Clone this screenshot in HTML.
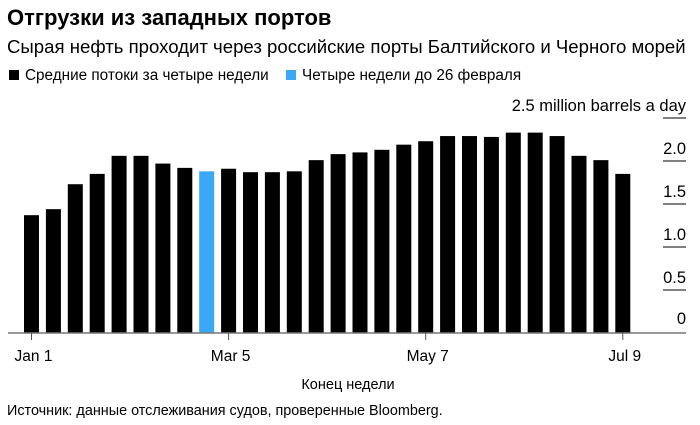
<!DOCTYPE html>
<html><head><meta charset="utf-8"><style>
body{margin:0;width:700px;height:425px;background:#fff;font-family:"Liberation Sans",sans-serif;color:#000;overflow:hidden;position:relative}
.t{position:absolute;white-space:nowrap}
</style></head><body>
<div class="t" style="left:7px;top:5px;font-size:22px;font-weight:bold">Отгрузки из западных портов</div>
<div class="t" style="left:7px;top:36px;font-size:18.6px">Сырая нефть проходит через российские порты Балтийского и Черного морей</div>
<div class="t" style="left:9px;top:67px;font-size:15.3px"><span style="display:inline-block;width:10px;height:10px;background:#000;margin-right:6px"></span>Средние потоки за четыре недели</div>
<div class="t" style="left:286px;top:67px;font-size:15.3px"><span style="display:inline-block;width:10px;height:10px;background:#3aa8f5;margin-right:6px"></span>Четыре недели до 26 февраля</div>
<svg width="700" height="425" style="position:absolute;left:0;top:0">
<g id="g"></g>
<text x="348" y="389" font-size="14.5" text-anchor="middle">Конец недели</text>
<text x="7" y="415" font-size="14.4">Источник: данные отслеживания судов, проверенные Bloomberg.</text>
</svg>
<script>
const values=[1.37,1.44,1.73,1.85,2.06,2.06,1.97,1.92,1.88,1.91,1.87,1.87,1.88,2.01,2.08,2.10,2.13,2.19,2.23,2.29,2.29,2.28,2.33,2.33,2.29,2.06,2.01,1.85];
const highlightIndex=[8];
const yTicks=[0,0.5,1.0,1.5,2.0,2.5];
const yTickLabels=["0","0.5","1.0","1.5","2.0","2.5 million barrels a day"];
const xTickIndex=[0,9,18,27];
const xTickLabels=["Jan 1","Mar 5","May 7","Jul 9"];
const NS="http://www.w3.org/2000/svg",g=document.getElementById('g');
const y=v=>333-v*86, x=i=>31.5+i*21.9, bw=15;
function mk(t,a){const e=document.createElementNS(NS,t);for(const k in a)e.setAttribute(k,a[k]);g.appendChild(e);return e;}
yTicks.forEach((v,i)=>{
 if(v>0){const l=mk('line',{x1:663,x2:686,y1:y(v),y2:y(v),stroke:'#000','stroke-width':1});
 
 }
 const t=mk('text',{x:686,y:y(v)-(v>0?7:9),'font-size':16.5,'text-anchor':'end'});t.textContent=yTickLabels[i];
 
 
});
values.forEach((v,i)=>{
 const r=mk('rect',{x:x(i)-bw/2,y:y(v),width:bw,height:333-y(v),fill:highlightIndex.includes(i)?'#3aa8f5':'#000'});
 
 
});
const ax=mk('line',{x1:8,x2:686,y1:333,y2:333,stroke:'#777','stroke-width':1.5});


xTickIndex.forEach((ix,i)=>{
 const tk=mk('line',{x1:x(ix),x2:x(ix),y1:333,y2:340,stroke:'#555','stroke-width':1});
 
 
 const t=mk('text',{x:x(ix)+2,y:361,'font-size':15.5,'text-anchor':'middle'});t.textContent=xTickLabels[i];
 
 
});
</script>
</body></html>
